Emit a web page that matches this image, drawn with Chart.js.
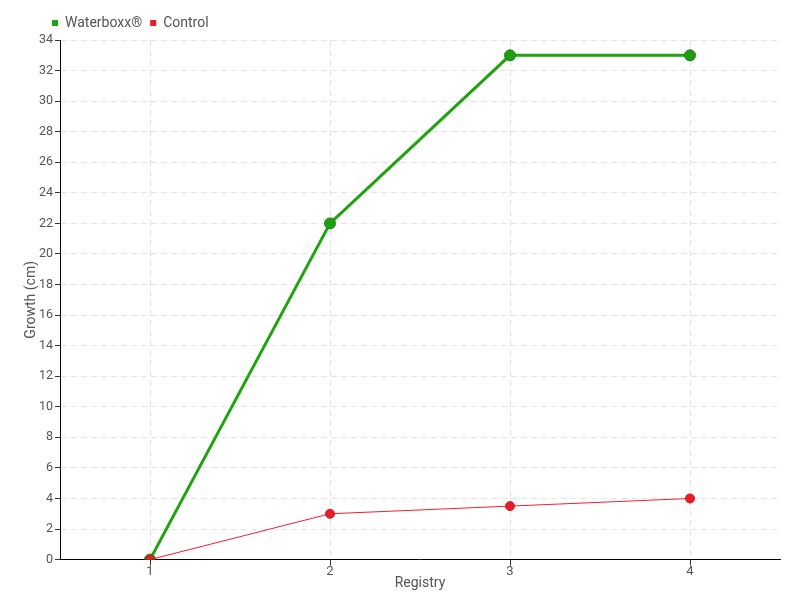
<!DOCTYPE html>
<html>
<head>
<meta charset="utf-8">
<script src="https://cdn.jsdelivr.net/npm/chart.js@4/dist/chart.umd.min.js"></script>
<style>
  html, body { margin: 0; padding: 0; background: #fff; }
  #wrap { width: 800px; height: 600px; }
</style>
</head>
<body>
<div id="wrap"><canvas id="growth"></canvas></div>
<script>
var registry = ["1", "2", "3", "4"];
var waterboxx = [0, 22, 33, 33];
var control = [0, 3, 3.5, 4];
var yTicksMax = 34;

Chart.defaults.font.family = "Roboto, 'DejaVu Sans', sans-serif";
Chart.defaults.color = "#555";

// push legend to the right a bit, like the original
var legendShift = {
    id: 'legendShift',
    afterLayout: function (chart) {
        chart.legend.left += 24;
        chart.legend.right += 24;
    }
};

var ctx = document.getElementById("growth").getContext("2d");

var chart = new Chart(ctx, {
    type: 'line',
    data: {
        labels: registry,
        datasets: [{
            label: 'Waterboxx\u00ae',
            data: waterboxx,
            borderColor: '#1fa30f',
            backgroundColor: '#1fa30f',
            borderWidth: 3,
            pointRadius: 5.5,
            pointBackgroundColor: '#1f9e12',
            pointBorderColor: '#188a0c',
            pointBorderWidth: 1,
            tension: 0,
            order: 1
        }, {
            label: 'Control',
            data: control,
            borderColor: '#f0202e',
            backgroundColor: '#ee1c25',
            borderWidth: 1,
            pointRadius: 4.5,
            pointBackgroundColor: '#e81d27',
            pointBorderColor: '#d41820',
            pointBorderWidth: 1,
            tension: 0,
            order: 0
        }]
    },
    options: {
        responsive: true,
        maintainAspectRatio: false,
        animation: false,
        layout: { padding: { left: 20, right: 20, top: 8, bottom: 8 } },
        plugins: {
            tooltip: { enabled: false },
            legend: {
                position: 'top',
                align: 'start',
                labels: {
                    boxWidth: 6,
                    boxHeight: 6,
                    padding: 8,
                    font: { size: 14 },
                    color: '#555',
                    sort: function (a, b) { return a.datasetIndex - b.datasetIndex; },
                    generateLabels: function (chart) {
                        var items = Chart.defaults.plugins.legend.labels.generateLabels(chart);
                        items.forEach(function (it) { it.lineWidth = 0; });
                        return items;
                    }
                }
            }
        },
        scales: {
            x: {
                offset: true,
                grid: {
                    offset: false,
                    color: '#e3e3e3',
                    tickColor: '#333',
                    tickLength: 6,
                    lineWidth: 1
                },
                border: { display: true, color: '#000', width: 1, dash: [6, 4] },
                ticks: { font: { size: 13 }, color: '#555', padding: -2 },
                title: { display: true, text: 'Registry', font: { size: 14 }, color: '#555', padding: { top: -2, bottom: 0 } }
            },
            y: {
                min: 0,
                max: yTicksMax,
                afterFit: function (scale) { scale.width = 40; },
                grid: {
                    color: '#e3e3e3',
                    tickColor: '#333',
                    tickLength: 5,
                    lineWidth: 1
                },
                border: { display: true, color: '#000', width: 1, dash: [6, 4] },
                ticks: { stepSize: 2, font: { size: 12.5 }, color: '#555', padding: 2 },
                title: { display: true, text: 'Growth (cm)', font: { size: 14 }, color: '#555', padding: { top: 3, bottom: 0 } }
            }
        }
    },
    plugins: [legendShift]
});
</script>
</body>
</html>
